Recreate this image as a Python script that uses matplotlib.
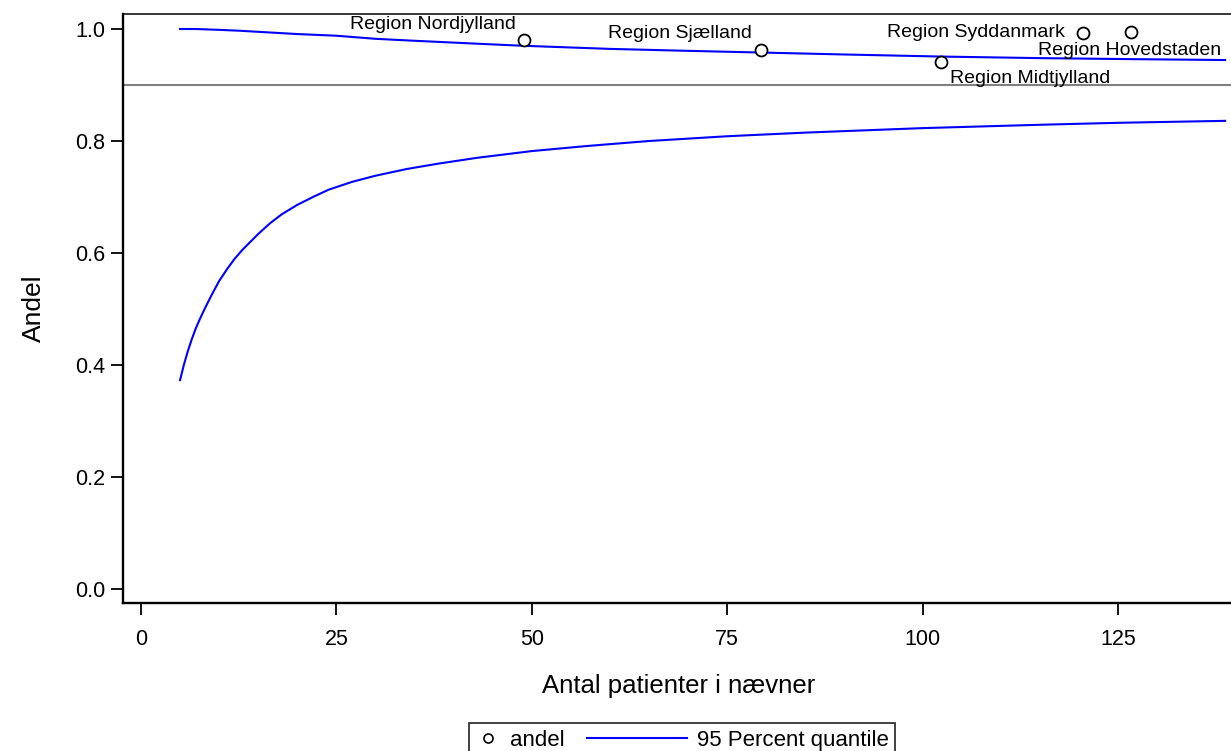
import matplotlib
matplotlib.use('Agg')
from matplotlib import pyplot as plt
from matplotlib.lines import Line2D
from matplotlib.legend_handler import HandlerLine2D

# Skrifttype som Arial
matplotlib.rcParams['font.family'] = ['Liberation Sans', 'DejaVu Sans']

# Regioner: antal patienter i nævner og andel
regioner = ['Region Nordjylland', 'Region Sjælland', 'Region Syddanmark',
            'Region Hovedstaden', 'Region Midtjylland']
naevner = [49, 79.3, 120.5, 126.6, 102.4]
andel = [0.980, 0.9625, 0.9934, 0.994, 0.9416]

# Placering af etiketter (forskydning i pixels, vandret justering)
etiket_pos = [(-8, 16, 'right'), (-9, 17, 'right'), (-18, 0, 'right'),
              (-1, -18, 'center'), (9, -17, 'left')]

# 95 procent kvantil - øvre grænse
n_oevre = [5, 7, 10, 12.5, 15, 17.5, 20, 25, 30, 35, 43.4, 49, 60, 70, 79.3,
           90, 102.4, 115, 126.7, 138.7]
oevre = [1.000, 1.000, 0.9985, 0.997, 0.995, 0.993, 0.991, 0.988, 0.9825, 0.979,
         0.9735, 0.970, 0.9645, 0.961, 0.958, 0.9545, 0.9508, 0.948, 0.9462, 0.9446]

# 95 procent kvantil - nedre grænse
n_nedre = [5, 5.5, 6, 6.5, 7, 7.5, 8, 9, 10, 11, 12, 13, 14, 15, 16.5, 18, 20,
           22, 24, 27, 30, 34, 38, 43, 50, 57, 65, 75, 85, 100, 115, 125, 138.7]
nedre = [0.373, 0.401, 0.425, 0.446, 0.465, 0.481, 0.496, 0.524, 0.550, 0.571,
         0.590, 0.606, 0.620, 0.634, 0.653, 0.669, 0.686, 0.700, 0.713, 0.727,
         0.738, 0.750, 0.7595, 0.770, 0.782, 0.791, 0.800, 0.8085, 0.815, 0.823,
         0.829, 0.8325, 0.836]

standard = 0.9

px = 0.72  # punkter pr. pixel ved dpi 100

fig = plt.figure(figsize=(12.31, 7.51), dpi=100)
ax = fig.add_axes([123 / 1231, 148 / 751, 1111 / 1231, 589 / 751])

ax.axhline(standard, color='#808080', lw=1.5, zorder=1)
ax.plot(n_oevre, oevre, color='#0000ff', lw=1.5, zorder=2)
ax.plot(n_nedre, nedre, color='#0000ff', lw=1.5, zorder=2)
ax.plot(naevner, andel, linestyle='none', marker='o', ms=8.6,
        mfc='white', mec='black', mew=1.3, zorder=3)

for navn, x, y, (dx, dy, ha) in zip(regioner, naevner, andel, etiket_pos):
    ax.annotate(navn, (x, y), xytext=(dx * px, dy * px), textcoords='offset points',
                ha=ha, va='center', fontsize=14, zorder=4)

ax.set_xlim(-2.3, 139.84)
ax.set_ylim(-0.025, 1.0268)
ax.set_xticks([0, 25, 50, 75, 100, 125])
ax.set_yticks([0.0, 0.2, 0.4, 0.6, 0.8, 1.0])
ax.set_yticklabels(['0.0', '0.2', '0.4', '0.6', '0.8', '1.0'])

for side in ['left', 'bottom']:
    ax.spines[side].set_linewidth(1.7)
ax.spines['top'].set_linewidth(1.1)
ax.spines['right'].set_visible(False)
ax.tick_params(axis='both', direction='out', length=12 * px, width=1.3,
               labelsize=15.5)
ax.tick_params(axis='x', pad=10)
ax.tick_params(axis='y', pad=4)

ax.set_xlabel('Antal patienter i nævner', fontsize=18.5, labelpad=17)
ax.set_ylabel('Andel', fontsize=19, labelpad=21)


# Linjen i forklaringen tegnes længere end selve handle-boksen
class LangLinje(HandlerLine2D):
    def create_artists(self, legend, orig_handle, xdescent, ydescent,
                       width, height, fontsize, trans):
        y = height / 2 - ydescent
        linje = Line2D([-xdescent - 75 * px, -xdescent + width], [y, y],
                       color=orig_handle.get_color(), lw=orig_handle.get_linewidth())
        linje.set_transform(trans)
        return [linje]


h_punkt = Line2D([], [], linestyle='none', marker='o', ms=6.5, mfc='white',
                 mec='black', mew=1.2)
h_linje = Line2D([], [], color='#0000ff', lw=1.5)
leg = fig.legend([h_punkt, h_linje], ['andel', '95 Percent quantile'],
                 loc='upper center', bbox_to_anchor=(682 / 1231, 28 / 751),
                 borderaxespad=0, ncol=2, fontsize=16, frameon=True, fancybox=False,
                 handlelength=1.1, handletextpad=0.45, columnspacing=4.4,
                 borderpad=0.3, handler_map={h_linje: LangLinje()})
leg.get_frame().set_edgecolor('black')
leg.get_frame().set_linewidth(1.3)

fig.savefig('out.png', dpi=100)
